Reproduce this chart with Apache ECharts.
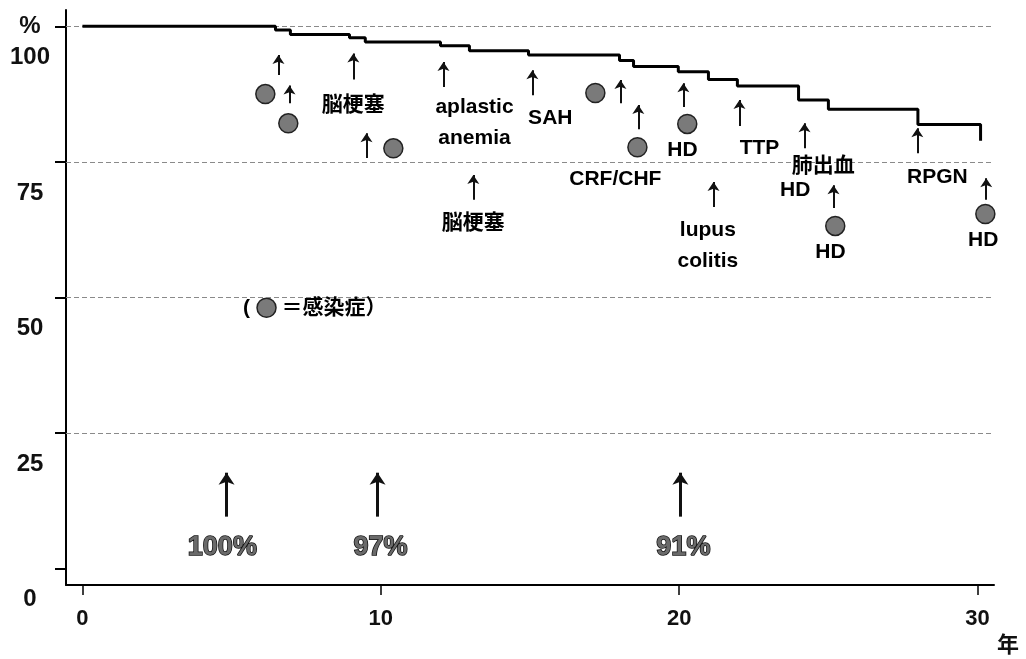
<!DOCTYPE html>
<html><head><meta charset="utf-8">
<script src="https://cdn.jsdelivr.net/npm/echarts@6/dist/echarts.min.js"></script>
<style>html,body{margin:0;padding:0;background:#fff}#c{width:1026px;height:659px}</style>
</head><body><div id="c"></div>
<script>
// Kaplan-Meier survival curve (years, %)
const years    = [0, 6.47, 6.97, 8.95, 9.48, 12.0, 12.97, 14.95, 18.0, 18.47, 19.97, 20.98, 21.95, 24.0, 25.0, 28.0, 30.1];
const survival = [100, 99.3, 98.5, 97.9, 97.1, 96.4, 95.5, 94.7, 93.7, 92.6, 91.6, 90.2, 89.0, 86.4, 84.7, 81.9, 78.9];

const xTicks = [0, 10, 20, 30];
const yTicks = [0, 25, 50, 75, 100];
const gridLevels = [25, 50, 75, 100];

// infection deaths (grey circles)
const infT = [6.13, 6.90, 10.42, 17.19, 18.60, 20.27, 25.23, 30.26];
const infS = [87.5, 82.1, 77.5, 87.7, 77.7, 82.0, 63.2, 65.4];

// small event arrows: year, tail %, head %
const arrowT    = [6.57, 6.94, 9.08, 9.52, 12.10, 13.10, 15.08, 18.03, 18.63, 20.14, 21.15, 22.02, 24.20, 25.17, 27.98, 30.29];
const arrowFrom = [91.0, 85.8, 90.2, 75.7, 88.8, 68.0, 87.3, 85.8, 81.0, 85.1, 66.7, 81.6, 77.5, 66.5, 76.6, 68.0];
const arrowTo   = [94.7, 89.1, 95.0, 80.3, 93.4, 72.6, 91.9, 90.1, 85.5, 89.5, 71.3, 86.4, 82.1, 70.7, 81.2, 72.0];

// cause-of-death labels
const labelText = ['脳梗塞', 'aplastic\nanemia', '脳梗塞', 'SAH', 'CRF/CHF', 'HD', 'TTP', 'lupus\ncolitis', '肺出血', 'HD', 'HD', 'RPGN', 'HD'];
const labelT    = [9.08, 13.14, 13.10, 15.68, 17.86, 20.11, 22.69, 20.96, 24.83, 23.89, 25.07, 28.65, 30.19];
const labelS    = [85.5, 82.2, 63.7, 83.1, 71.8, 77.2, 77.5, 59.5, 74.2, 69.8, 58.4, 72.2, 60.6];

// survival rate callouts
const pctText = ['100%', '97%', '91%'];
const pctT    = [4.69, 9.99, 20.14];
const pctS    = [3.9, 3.9, 3.9];
const pctArrowT = [4.83, 9.89, 20.04];
const pctArrowFrom = [9.6, 9.6, 9.6];
const pctArrowTo   = [17.7, 17.7, 17.7];

// key: (● ＝感染症)
const keyCircle = [6.17, 48.1];
const keyOpen = ['(', 5.50, 48.1];
const keyText = ['＝感染症）', 6.67, 48.1];

const FONT = "'Liberation Sans','Noto Sans CJK JP',sans-serif";

const chart = echarts.init(document.getElementById('c'), null, {renderer: 'canvas'});
const option = {
  animation: false,
  backgroundColor: '#fff',
  grid: {left: 66, right: 32, top: 10, bottom: 74, outerBoundsMode: 'none', containLabel: false},
  xAxis: {
    type: 'value', min: -0.55, max: 30.55,
    axisLine: {show: true, onZero: false, lineStyle: {color: '#000', width: 2}},
    axisTick: {show: true, customValues: xTicks, length: 10, lineStyle: {color: '#000', width: 1.5}},
    axisLabel: {customValues: xTicks, margin: 23, fontSize: 22, fontWeight: 'bold', color: '#111', fontFamily: FONT},
    splitLine: {show: false},
    name: '年', nameLocation: 'end', nameGap: 3,
    nameTextStyle: {fontSize: 22, fontWeight: 'bold', color: '#111', fontFamily: FONT, verticalAlign: 'top', align: 'left', padding: [50, 0, 0, 0]}
  },
  yAxis: {
    type: 'value', min: -3, max: 103,
    axisLine: {show: true, onZero: false, lineStyle: {color: '#000', width: 2}},
    axisTick: {show: true, customValues: yTicks, length: 11, lineStyle: {color: '#000', width: 2}},
    axisLabel: {
      customValues: yTicks, margin: 36, align: 'center', verticalAlign: 'middle',
      lineHeight: 31,
      formatter: v => ' \n' + (v === 100 ? '%' : ' ') + '\n' + v,
      fontSize: 24, fontWeight: 'bold', color: '#111', fontFamily: FONT
    },
    splitLine: {show: false}
  },
  series: [
    {
      type: 'line', step: 'end', symbol: 'none', z: 5,
      data: years.map((t, i) => [t, survival[i]]),
      lineStyle: {color: '#000', width: 3},
      markLine: {
        silent: true, symbol: 'none', label: {show: false},
        lineStyle: {color: '#8a8a8a', type: [5, 3], width: 1},
        data: gridLevels.map(v => ({yAxis: v}))
      }
    },
    {
      type: 'scatter', symbol: 'circle', symbolSize: 19, z: 4,
      data: infT.map((t, i) => [t, infS[i]]).concat([keyCircle]),
      itemStyle: {color: '#7a7a7a', borderColor: '#222', borderWidth: 1.5, opacity: 1},
      markLine: {
        silent: true, symbol: ['none', 'arrow'], symbolSize: 12, label: {show: false},
        lineStyle: {color: '#111', width: 3, type: 'solid', opacity: 1},
        data: pctArrowT.map((t, i) => [{coord: [t, pctArrowFrom[i]]}, {coord: [t, pctArrowTo[i]]}])
      }
    },
    {
      type: 'scatter', symbolSize: 1, z: 6,
      itemStyle: {color: 'rgba(0,0,0,0)', opacity: 1},
      data: labelText.map((s, i) => ({value: [labelT[i], labelS[i]], name: s}))
        .concat([
          {value: [keyOpen[1], keyOpen[2]], name: keyOpen[0]},
          {value: [keyText[1], keyText[2]], name: keyText[0], label: {align: 'left'}}
        ]),
      label: {
        show: true, position: 'inside', formatter: p => p.name,
        fontSize: 21, fontWeight: 'bold', color: '#000', fontFamily: FONT, lineHeight: 31
      },
      markLine: {
        silent: true, symbol: ['none', 'arrow'], symbolSize: 9, label: {show: false},
        lineStyle: {color: '#111', width: 2, type: 'solid', opacity: 1},
        data: arrowT.map((t, i) => [{coord: [t, arrowFrom[i]]}, {coord: [t, arrowTo[i]]}])
      }
    },
    {
      type: 'scatter', symbolSize: 1, z: 6,
      itemStyle: {color: 'rgba(0,0,0,0)', opacity: 1},
      data: pctText.map((s, i) => ({value: [pctT[i], pctS[i]], name: s})),
      label: {
        show: true, position: 'inside', formatter: p => p.name,
        fontSize: 27, fontWeight: 'bold', color: '#6a6a6a', fontFamily: FONT,
        textBorderColor: '#111', textBorderWidth: 1.5
      }
    }
  ]
};
chart.setOption(option);
</script>
</body></html>
